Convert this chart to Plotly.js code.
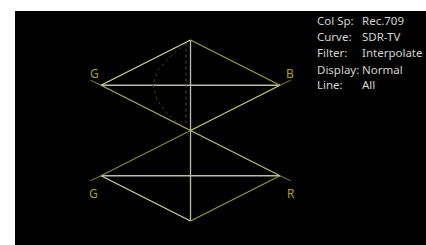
<!DOCTYPE html>
<html><head><meta charset="utf-8">
<script src="https://cdn.plot.ly/plotly-3.0.1.min.js"></script>
<style>html,body{margin:0;padding:0;background:#fff}#c{width:426px;height:245px}</style>
</head><body><div id="c"></div>
<script>
// Diamond display geometry (normalized units: G=-1, B/R=+1, white top=1, black centre=0, white bottom=-1)
const upperDiamondX = [0, -1, 0, 1, 0];
const upperDiamondY = [1, 0.5, 0, 0.5, 1];
const upperEdgeColors = ['#dcdc94', '#b0b060', '#d0d078', '#a0a040'];
const lowerDiamondX = [0, -1, 0, 1, 0];
const lowerDiamondY = [0, -0.5, -1, -0.5, 0];
const lowerEdgeColors = ['#8a8a3a', '#d8d890', '#9a9a40', '#c4c470'];
const extensionX = [[-1, -1.12], [1, 1.12], [-1, -1.12], [1, 1.12]];
const extensionY = [[0.5, 0.556], [0.5, 0.556], [-0.5, -0.556], [-0.5, -0.556]];
const axisLineX = [[-1, 1], [-1, 1], [0, 0]];
const axisLineY = [[0.5, 0.5], [-0.5, -0.5], [1, -1]];
const traceArcX = [0, -0.05, -0.229, -0.363, -0.419, -0.374, -0.251, -0.084, 0];
const traceArcY = [1, 0.967, 0.812, 0.669, 0.503, 0.337, 0.171, 0.039, 0];
const traceVertX = [-0.05, -0.05];
const traceVertY = [0.97, 0.08];
const vertexLabels = ['G', 'B', 'G', 'R'];
const vertexLabelX = [-1.078, 1.112, -1.089, 1.123];
const vertexLabelY = [0.635, 0.635, -0.691, -0.691];
const infoKeys = ['Col Sp:', 'Curve:', 'Filter:', 'Display:', 'Line:'];
const infoValues = ['Rec.709', 'SDR-TV', 'Interpolate', 'Normal', 'All'];
const infoRowY = [1.213, 1.036, 0.860, 0.677, 0.503];
const infoKeyX = 1.395;
const infoValueX = 1.890;

const traces = [];
function seg(xs, ys, color, width, dash) {
  traces.push({type: 'scatter', mode: 'lines', x: xs, y: ys, hoverinfo: 'skip',
    line: {color: color, width: width, dash: dash || 'solid'}, showlegend: false});
}
axisLineX.forEach((xs, i) => seg(xs, axisLineY[i], '#bcbcaa', 1.3));
seg(traceArcX, traceArcY, '#3c3c36', 1, 'dot');
seg(traceVertX, traceVertY, '#4a4a42', 1, 'dot');
extensionX.forEach((xs, i) => seg(xs, extensionY[i], '#84843a', 1));
for (let i = 0; i < 4; i++) {
  seg([upperDiamondX[i], upperDiamondX[i+1]], [upperDiamondY[i], upperDiamondY[i+1]], upperEdgeColors[i], 1.1);
  seg([lowerDiamondX[i], lowerDiamondX[i+1]], [lowerDiamondY[i], lowerDiamondY[i+1]], lowerEdgeColors[i], 1.1);
}

const annotations = [];
vertexLabels.forEach((t, i) => annotations.push({x: vertexLabelX[i], y: vertexLabelY[i], text: t,
  showarrow: false, xanchor: 'center', yanchor: 'middle',
  font: {family: 'Noto Sans', size: 12, color: '#a8a024'}}));
infoKeys.forEach((t, i) => {
  annotations.push({x: infoKeyX, y: infoRowY[i], text: t, showarrow: false, xanchor: 'left', yanchor: 'middle',
    font: {family: 'Noto Sans', size: 11.5, color: '#d4d4d4'}});
  annotations.push({x: infoValueX, y: infoRowY[i], text: infoValues[i], showarrow: false, xanchor: 'left', yanchor: 'middle',
    font: {family: 'Noto Sans', size: 11.5, color: '#d4d4d4'}});
});

const ax = {showgrid: false, zeroline: false, showticklabels: false, showline: false, ticks: '', fixedrange: true};
Plotly.newPlot('c', traces, {
  width: 426, height: 245,
  margin: {l: 15, r: 0, t: 11, b: 0, pad: 0},
  paper_bgcolor: '#ffffff', plot_bgcolor: '#000000',
  xaxis: Object.assign({range: [-1.961, 2.631]}, ax),
  yaxis: Object.assign({range: [-1.265, 1.320]}, ax),
  annotations: annotations,
  showlegend: false
}, {displayModeBar: false, staticPlot: true});
</script></body></html>
